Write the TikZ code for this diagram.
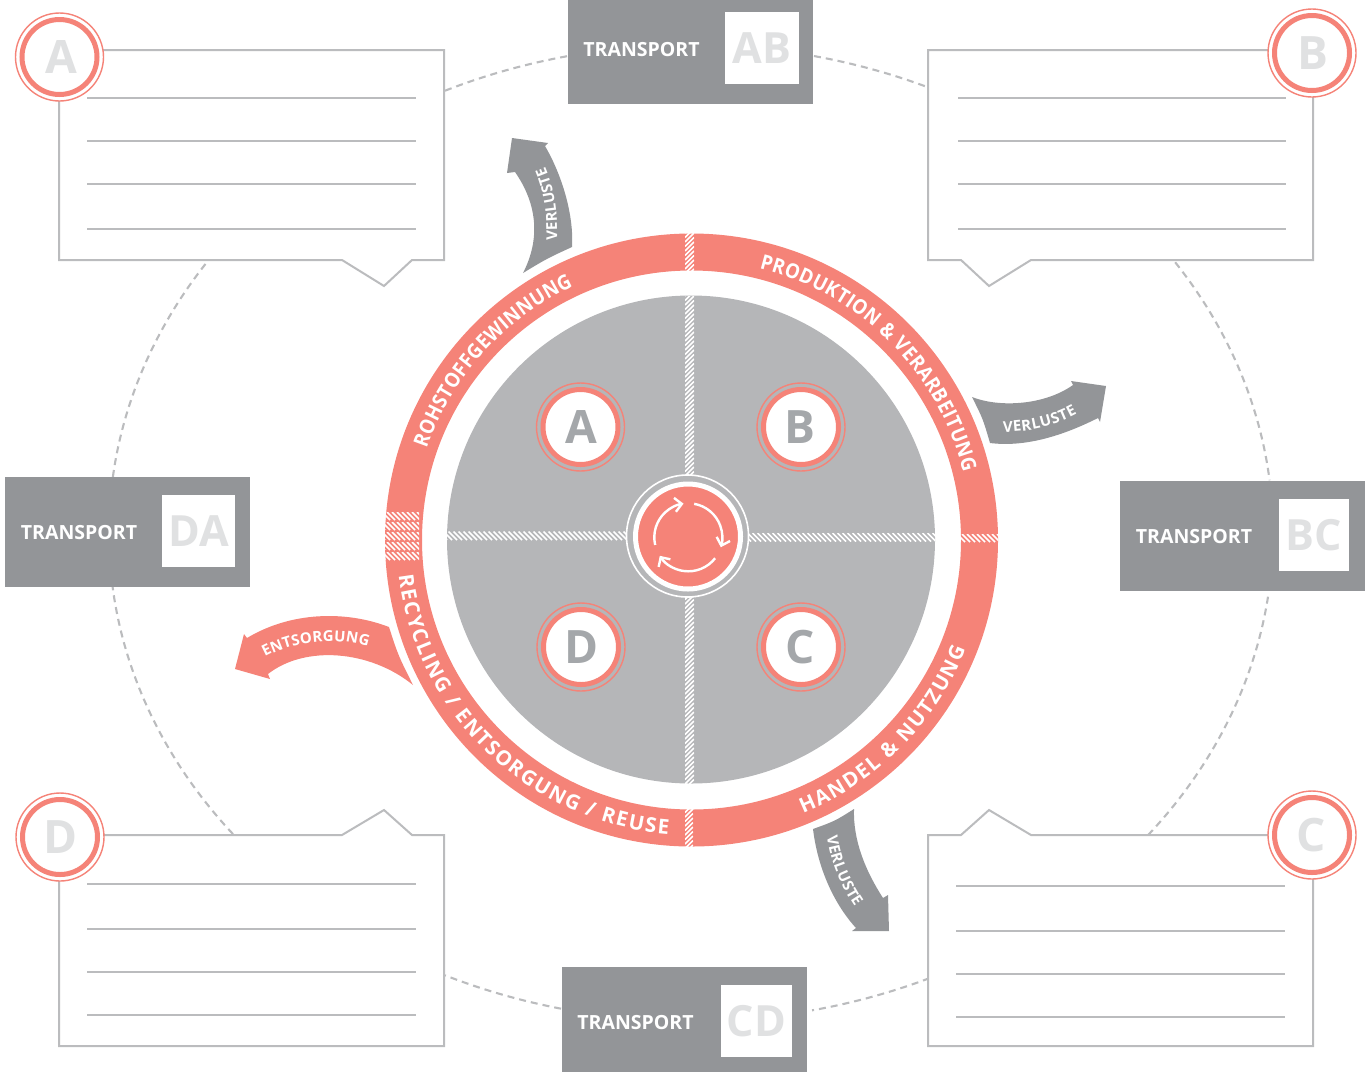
\documentclass[tikz,border=0pt]{standalone}
\usepackage{fontspec}
\setmainfont{Open Sans}
\newfontfamily\narrowsans[FakeStretch=0.91]{Open Sans}
\usetikzlibrary{arrows.meta,decorations.text}
\definecolor{salmon}{HTML}{F58378}
\definecolor{darkgrey}{HTML}{939598}
\definecolor{discgrey}{HTML}{B5B6B8}
\definecolor{linegrey}{HTML}{BBBCBE}
\definecolor{faint}{HTML}{E0E1E2}
\definecolor{midletter}{HTML}{A4A7AA}
\newcommand{\fs}[1]{\fontsize{#1}{#1}\selectfont\bfseries}
\newcommand{\rs}{\fontsize{20.5}{20.5}\selectfont\bfseries\color{white}}
\newcommand{\rn}{\narrowsans\fontsize{20.5}{20.5}\selectfont\bfseries\color{white}}
\tikzset{
  dashline/.style={draw=linegrey,line width=2.1,dash pattern=on 7pt off 5pt},
  calloutbox/.style={draw=linegrey,fill=white,line width=2,line join=miter},
  rule/.style={draw=linegrey,line width=1.7},
  tbox/.style={fill=darkgrey,rectangle,inner sep=0,minimum width=245},
  tlabel/.style={text=white,font=\fs{19.5},inner sep=0},
  tletter/.style={fill=white,rectangle,inner sep=0,text=faint,font=\fs{43}},
  hatchline/.style={draw=white,line width=1.5},
  arrowgrey/.style={fill=darkgrey},
  arrowsalmon/.style={fill=salmon},
  cycle/.style={draw=white,line width=2.4,-{Straight Barb[length=7pt,width=14pt,line width=2.4pt]}},
}
% badge: #1 name, #2 x, #3 y, #4 letter, #5 letter colour, #6 gap colour, #7 letter offset
\newcommand{\badge}[7]{%
  \node[circle,draw=salmon,line width=1.4,fill=#6,minimum size=88,inner sep=0] (#1o) at (#2,#3) {};
  \node[circle,draw=salmon,line width=5,fill=white,minimum size=75,inner sep=0] (#1r) at (#2,#3) {};
  \node[inner sep=0,text=#5,font=\fs{46}] (#1) at (#2+#7,#3) {#4};
}
% dashed arc of the big ellipse
\newcommand{\dasharc}[4]{%
  \pgfmathsetmacro\kk{4/3*tan((#4-#3)/4)}%
  \coordinate (#1) at ({691+582*cos(#3)},{533+488*sin(#3)});
  \coordinate (#2) at ({691+582*cos(#4)},{533+488*sin(#4)});
  \draw[dashline] (#1) .. controls ({691+582*cos(#3)-\kk*582*sin(#3)},{533+488*sin(#3)+\kk*488*cos(#3)})
     and ({691+582*cos(#4)+\kk*582*sin(#4)},{533+488*sin(#4)-\kk*488*cos(#4)}) .. (#2);
}
% hatching, strokes like /
\newcommand{\hatchS}[4]{%
  \begin{scope}
    \clip (#1,#3) rectangle (#2,#4);
    \pgfmathtruncatemacro\nn{(#4-#3+#2-#1)/4.5+1}%
    \pgfmathsetmacro\ww{#2-#1}%
    \foreach \i in {0,...,\nn}{\draw[hatchline] ({#1},{#3+\i*4.5}) -- ++(\ww,-\ww);}
  \end{scope}
}
% hatching, strokes like \
\newcommand{\hatchB}[4]{%
  \begin{scope}
    \clip (#1,#3) rectangle (#2,#4);
    \pgfmathtruncatemacro\nn{(#4-#3+#2-#1)/5+1}%
    \pgfmathsetmacro\hh{#4-#3}%
    \foreach \i in {0,...,\nn}{\draw[hatchline] ({#1-\hh+\i*5},{#3}) -- ++(\hh,\hh);}
  \end{scope}
}
\begin{document}
\begin{tikzpicture}[x=1pt,y=-1pt]
\useasboundingbox (0,0) rectangle (1372,1072);

% dashed ellipse pieces
\dasharc{e1a}{e1b}{-115}{-102.3}
\dasharc{e2a}{e2b}{-77.8}{-65.8}
\dasharc{e3a}{e3b}{-33.7}{-6.2}
\dasharc{e4a}{e4b}{7.5}{38.2}
\dasharc{e5a}{e5b}{65.8}{78}
\dasharc{e6a}{e6b}{102.9}{115}
\dasharc{e7a}{e7b}{141.9}{173.7}
\dasharc{e8a}{e8b}{186.6}{213.6}

% callout boxes
\draw[calloutbox] (59,50) -- (444,50) -- (444,260) -- (412,260) -- (384,286) -- (342,260) -- (59,260) -- cycle;
\draw[calloutbox] (928,50) -- (1313,50) -- (1313,260) -- (1031,260) -- (989,286) -- (961,260) -- (928,260) -- cycle;
\draw[calloutbox] (59,835) -- (342,835) -- (384,810) -- (412,835) -- (444,835) -- (444,1046) -- (59,1046) -- cycle;
\draw[calloutbox] (928,835) -- (961,835) -- (989,810) -- (1031,835) -- (1313,835) -- (1313,1046) -- (928,1046) -- cycle;
\foreach \y in {98,141,184,229}{\draw[rule,line width=2.4] (87,\y) -- (416,\y);}
\foreach \y in {98,141,184,229}{\draw[rule] (958,\y) -- (1286,\y);}
\foreach \y in {884,929,972,1015}{\draw[rule] (87,\y) -- (416,\y);}
\foreach \y in {886,931,974,1017}{\draw[rule] (956,\y) -- (1285,\y);}

% corner badges
\badge{ca}{59.5}{57}{A}{faint}{white}{1.5}
\badge{cb}{1312}{53}{B}{faint}{white}{1}
\badge{cc}{1312}{835}{C}{faint}{white}{-1}
\badge{cd}{60}{837}{D}{faint}{white}{1}

% transport boxes
\node[tbox,minimum height=104] (tab) at (690.5,52) {};
\node[tletter,minimum width=74,minimum height=72] (lab) at (762,48) {AB};
\node[tlabel] (nab) at (641.5,50) {TRANSPORT};
\node[tbox,minimum height=110] (tda) at (127.5,532) {};
\node[tletter,minimum width=73,minimum height=72] (lda) at (198.5,531) {DA};
\node[tlabel] (nda) at (79,533) {TRANSPORT};
\node[tbox,minimum height=110] (tbc) at (1242.5,536) {};
\node[tletter,minimum width=70,minimum height=72] (lbc) at (1314,535) {BC};
\node[tlabel] (nbc) at (1194,537) {TRANSPORT};
\node[tbox,minimum height=105] (tcd) at (684.5,1019.5) {};
\node[tletter,minimum width=71,minimum height=72] (lcd) at (756.5,1021) {CD};
\node[tlabel] (ncd) at (635.5,1023) {TRANSPORT};

% outer ring and disc
\fill[salmon,even odd rule] (691.5,540) circle[radius=306.5] (691.5,540) circle[radius=269.5];
\fill[discgrey] (691,539.5) circle[radius=244];

% hatch strips
\hatchS{685}{694}{233}{271}
\hatchS{685}{694}{296}{480}
\hatchS{685}{694}{595}{784}
\hatchS{685}{693}{808}{847}
\hatchB{447}{630}{531.5}{540}
\hatchB{746}{935}{533}{541.5}
\hatchB{960}{998}{534}{542}
\foreach \y in {512,522,532,542,552}{\hatchB{385}{419}{\y}{\y+8}}

% centre badge
\node[circle,draw=white,line width=1.6,fill=discgrey,minimum size=122,inner sep=0] (hubo) at (687.5,536) {};
\node[circle,draw=white,line width=5,fill=salmon,minimum size=105,inner sep=0] (hub) at (688,536.5) {};
\begin{scope}[shift={(688.3,537.3)},x=1pt,y=1pt]
  \draw[cycle] (193:34) arc[start angle=193,end angle=98,radius=34];
  \draw[cycle] (80:34) arc[start angle=80,end angle=-17,radius=34];
  \draw[cycle] (-38:34) arc[start angle=-38,end angle=-147,radius=34];
\end{scope}

% inner badges
\badge{ia}{580.5}{427}{A}{midletter}{discgrey}{0.5}
\badge{ib}{801}{427}{B}{midletter}{discgrey}{-1}
\badge{ic}{801}{647}{C}{midletter}{discgrey}{-1}
\badge{id}{581}{647}{D}{midletter}{discgrey}{1}

% flow arrows
\fill[arrowgrey] (512,138) -- (548,143) -- (545,146) .. controls (562,175) and (574,215) .. (572,247)
  .. controls (547,258.5) .. (523,273) .. controls (540,240) and (538,205) .. (515,172) -- (507,173) -- cycle;
\fill[arrowgrey] (972,397) .. controls (1000,408) and (1045,405) .. (1073,385) -- (1071,381) -- (1106,386) -- (1100,422) -- (1098,418)
  .. controls (1070,432) and (1030,448) .. (990,443) .. controls (983,419) .. (972,397) -- cycle;
\fill[arrowgrey] (854,809) .. controls (853,840) and (865,870) .. (883,898) -- (888,895) -- (889,931) -- (852,931) -- (856,928)
  .. controls (835,905) and (818,870) .. (813,829) .. controls (835,821) .. (854,809) -- cycle;
\fill[arrowsalmon] (389,627) .. controls (345,610) and (290,612) .. (247,638) -- (244,634) -- (235,669) -- (270,679) -- (268,674)
  .. controls (305,645) and (370,650) .. (413,685) .. controls (398,655) .. (389,627) -- cycle;

% curved labels on the arrows
\path[decorate,decoration={text along path,text align=fit to path,text={|\fs{15}\color{white}|VERLUSTE}}]
  (557,240) .. controls (558,215) and (555,190) .. (545,167);
\path[decorate,decoration={text along path,text align=fit to path,text={|\fs{15}\color{white}|VERLUSTE}}]
  (1003,432) .. controls (1030,432) and (1055,426) .. (1077,414);
\path[decorate,decoration={text along path,text align=fit to path,text={|\fs{15}\color{white}|VERLUSTE}}]
  (827,836) .. controls (830,860) and (840,885) .. (855,907);
\path[decorate,decoration={text along path,text align=fit to path,text={|\fs{15}\color{white}|ENTSORGUNG}}]
  (265,657) .. controls (295,641) and (335,636) .. (368,647);

% curved labels on the ring
\begin{scope}[shift={(691.5,540)},x=1pt,y=1pt]
  \path[decorate,decoration={text along path,text align=fit to path,text={|\rn|ROHSTOFFGEWINNUNG}}]
    (161:280) arc[start angle=161,end angle=115,radius=280];
  \path[decorate,decoration={text along path,text align=fit to path,text={|\rn|PRODUKTION {\&} VERARBEITUNG}}]
    (76:280) arc[start angle=76,end angle=14,radius=280];
  \path[decorate,decoration={text along path,text align=fit to path,text={|\rs|HANDEL {\&} NUTZUNG}}]
    (-67.8:295) arc[start angle=-67.8,end angle=-21.7,radius=295];
  \path[decorate,decoration={text along path,text align=fit to path,text={|\rs|RECYCLING / ENTSORGUNG / REUSE}}]
    (187:295) arc[start angle=187,end angle=265.5,radius=295];
\end{scope}
\end{tikzpicture}
\end{document}
